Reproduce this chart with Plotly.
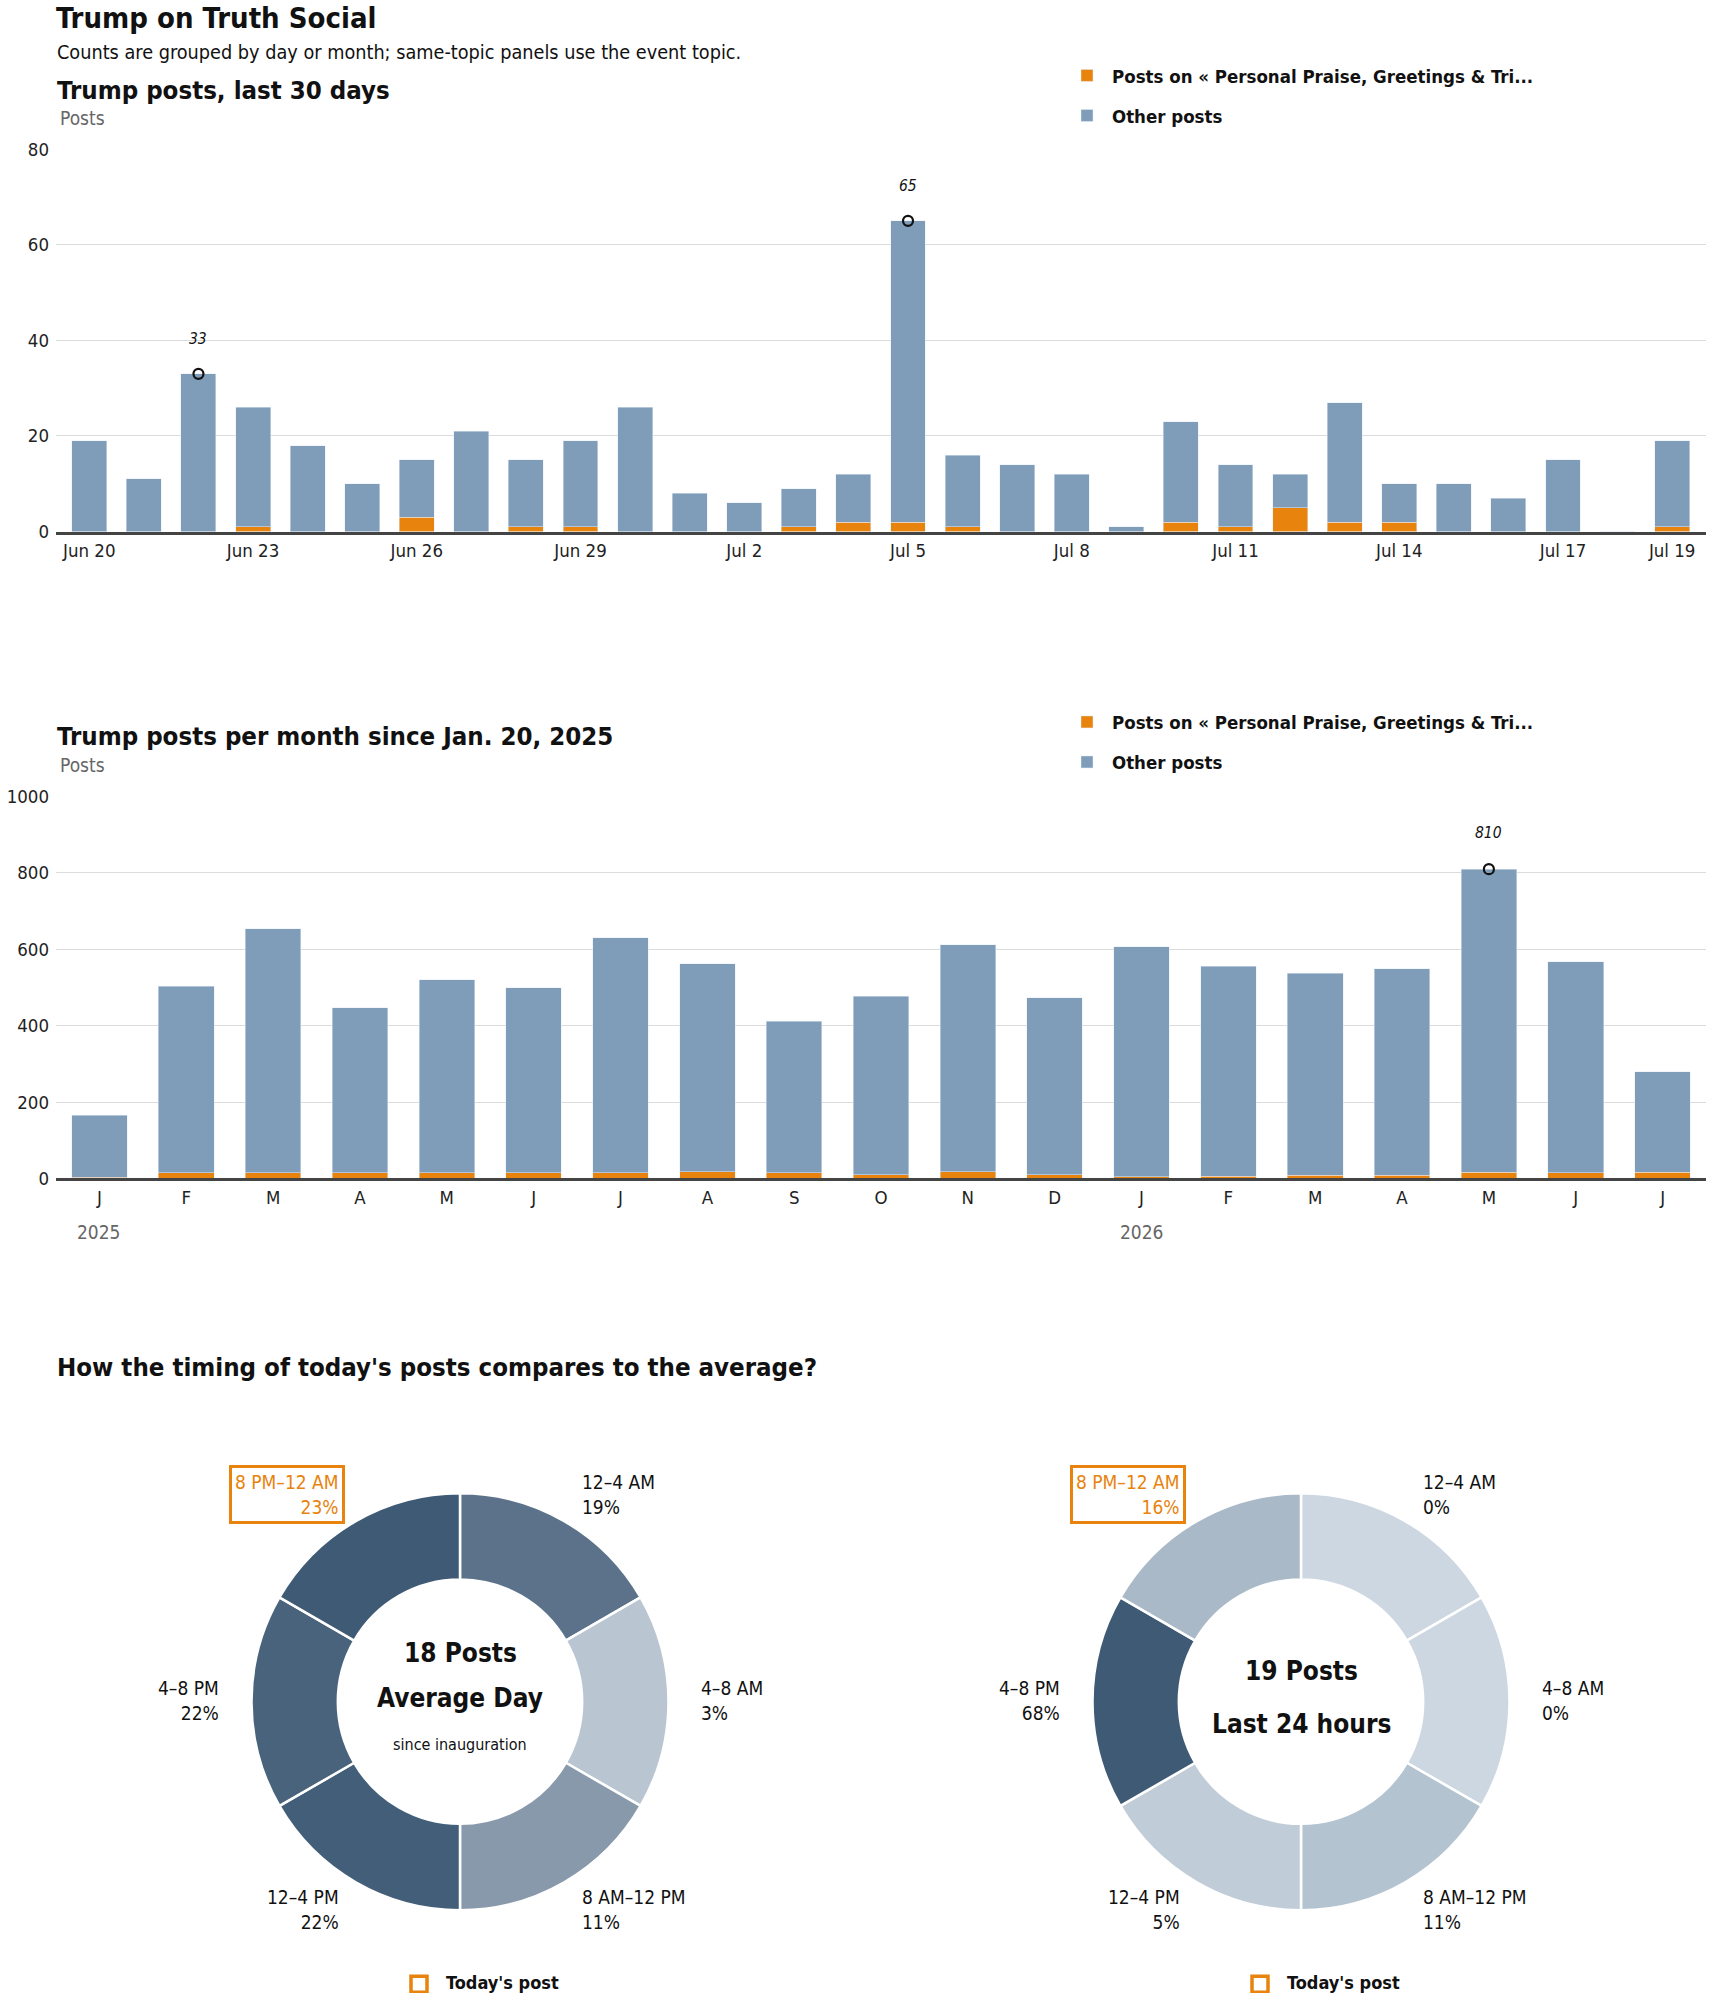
import plotly.graph_objects as go

W, H = 1710, 1993

ORANGE = "#e8830e"
BLUE = "#7f9db9"
INK = "#111111"
GREY = "#666666"
BOLD = "Liberation Sans Narrow, DejaVu Sans Condensed, Arial Narrow, sans-serif"
REG = "Liberation Sans Narrow, DejaVu Sans Condensed, Arial Narrow, sans-serif"

# --- data -------------------------------------------------------------
topic_name = "Posts on « Personal Praise, Greetings & Tri..."

days = ["Jun 20", "Jun 21", "Jun 22", "Jun 23", "Jun 24", "Jun 25", "Jun 26",
        "Jun 27", "Jun 28", "Jun 29", "Jun 30", "Jul 1", "Jul 2", "Jul 3",
        "Jul 4", "Jul 5", "Jul 6", "Jul 7", "Jul 8", "Jul 9", "Jul 10",
        "Jul 11", "Jul 12", "Jul 13", "Jul 14", "Jul 15", "Jul 16", "Jul 17",
        "Jul 18", "Jul 19"]
day_total = [19, 11, 33, 26, 18, 10, 15, 21, 15, 19, 26, 8, 6, 9, 12,
             65, 16, 14, 12, 1, 23, 14, 12, 27, 10, 10, 7, 15, 0, 19]
day_topic = [0, 0, 0, 1, 0, 0, 3, 0, 1, 1, 0, 0, 0, 1, 2,
             2, 1, 0, 0, 0, 2, 1, 5, 2, 2, 0, 0, 0, 0, 1]
day_ticks = ["Jun 20", "Jun 23", "Jun 26", "Jun 29", "Jul 2", "Jul 5",
             "Jul 8", "Jul 11", "Jul 14", "Jul 17", "Jul 19"]
day_marked = ["Jun 22", "Jul 5"]

months = ["Jan 2025", "Feb 2025", "Mar 2025", "Apr 2025", "May 2025", "Jun 2025",
          "Jul 2025", "Aug 2025", "Sep 2025", "Oct 2025", "Nov 2025", "Dec 2025",
          "Jan 2026", "Feb 2026", "Mar 2026", "Apr 2026", "May 2026", "Jun 2026",
          "Jul 2026"]
month_letters = ["J", "F", "M", "A", "M", "J", "J", "A", "S", "O", "N", "D",
                 "J", "F", "M", "A", "M", "J", "J"]
month_total = [165, 504, 654, 447, 520, 499, 630, 562, 412, 477, 612, 473,
               607, 556, 538, 549, 810, 568, 280]
month_topic = [3, 15, 15, 15, 15, 15, 15, 17, 15, 10, 18, 10,
               4, 6, 8, 8, 16, 15, 16]
month_marked = ["May 2026"]
year_labels = {"Jan 2025": "2025", "Jan 2026": "2026"}

slots = ["12–4 AM", "4–8 AM", "8 AM–12 PM", "12–4 PM", "4–8 PM", "8 PM–12 AM"]
avg_share = [19, 3, 11, 22, 22, 23]
today_share = [0, 0, 11, 5, 68, 16]
today_slot = "8 PM–12 AM"
avg_posts = 18
last24_posts = 19

# slice colours as seen in the picture
avg_colors = ["#5b728a", "#b9c6d2", "#8899ab", "#435e78", "#49637c", "#3f5a75"]
today_colors = ["#cdd7e1", "#cdd7e1", "#b4c3d0", "#c0cdd8", "#3f5a75", "#aab9c7"]

day_other = [t - p for t, p in zip(day_total, day_topic)]
month_other = [t - p for t, p in zip(month_total, month_topic)]


def fx(px):
    return px / W


def fy(py):
    # the photographed page comes out slightly squeezed vertically
    return 1 - ((py - 9.2) / 0.9872) / H


fig = go.Figure()

# --- bars -------------------------------------------------------------
fig.add_trace(go.Bar(x=days, y=day_topic, name=topic_name, marker_color=ORANGE,
                     legend="legend", legendgroup="t1", xaxis="x", yaxis="y"))
fig.add_trace(go.Bar(x=days, y=day_other, name="Other posts", marker_color=BLUE,
                     legend="legend", legendgroup="o1", xaxis="x", yaxis="y"))
fig.add_trace(go.Bar(x=months, y=month_topic, name=topic_name, marker_color=ORANGE,
                     legend="legend2", legendgroup="t2", xaxis="x2", yaxis="y2"))
fig.add_trace(go.Bar(x=months, y=month_other, name="Other posts", marker_color=BLUE,
                     legend="legend2", legendgroup="o2", xaxis="x2", yaxis="y2"))

mark_d = [day_total[days.index(d)] for d in day_marked]
mark_m = [month_total[months.index(m)] for m in month_marked]
fig.add_trace(go.Scatter(x=day_marked, y=mark_d, mode="markers", showlegend=False,
                         marker=dict(symbol="circle-open", size=10, color=INK,
                                     line=dict(width=2.2, color=INK)),
                         cliponaxis=False, xaxis="x", yaxis="y"))
fig.add_trace(go.Scatter(x=month_marked, y=mark_m, mode="markers", showlegend=False,
                         marker=dict(symbol="circle-open", size=10, color=INK,
                                     line=dict(width=2.2, color=INK)),
                         cliponaxis=False, xaxis="x2", yaxis="y2"))

# --- donuts -----------------------------------------------------------
R = 208.5
CY = 1696
donuts = [(460, avg_share, avg_colors), (1301, today_share, today_colors)]
for cx, share, colors in donuts:
    fig.add_trace(go.Pie(
        values=[1] * len(slots), labels=slots, sort=False, direction="clockwise",
        rotation=0, hole=0.586, textinfo="none", showlegend=False,
        customdata=share, hovertemplate="%{label}: %{customdata}%<extra></extra>",
        marker=dict(colors=colors, line=dict(color="white", width=2.5)),
        domain=dict(x=[fx(cx - R), fx(cx + R)], y=[fy(CY + R), fy(CY - R)]),
    ))

# --- annotations -----------------------------------------------------
ann = []


def text(x, y, s, size, color=INK, family=REG, anchor="left", **kw):
    ann.append(dict(x=fx(x), y=fy(y), xref="paper", yref="paper", text=s,
                    showarrow=False, xanchor=anchor, yanchor="middle",
                    font=dict(family=family, size=size, color=color), **kw))


text(54, 16, "<b>Trump on Truth Social</b>", 29, family=BOLD)
text(55, 51, "Counts are grouped by day or month; same-topic panels use the event topic.", 19.7)
text(55, 88, "<b>Trump posts, last 30 days</b>", 25.6, family=BOLD)
text(58, 116, "Posts", 19, color=GREY)
text(55, 733, "<b>Trump posts per month since Jan. 20, 2025</b>", 25.6, family=BOLD)
text(58, 761, "Posts", 19, color=GREY)
text(55, 1362, "<b>How the timing of today's posts compares to the average?</b>", 25.6, family=BOLD)

for d, v in zip(day_marked, mark_d):
    ann.append(dict(x=d, y=v, xref="x", yref="y", text=f"<i>{v}</i>", showarrow=False,
                    yshift=35, font=dict(family=REG, size=15.5, color=INK)))
for m, v in zip(month_marked, mark_m):
    ann.append(dict(x=m, y=v, xref="x2", yref="y2", text=f"<i>{v}</i>", showarrow=False,
                    yshift=36, font=dict(family=REG, size=15.5, color=INK)))
for m, yr in year_labels.items():
    ann.append(dict(x=m, y=fy(1227), xref="x2", yref="paper", text=yr, showarrow=False,
                    yanchor="middle", font=dict(family=REG, size=19, color=GREY)))

# label placement around each donut: (dx, dy, anchor)
slot_pos = {
    "12–4 AM": (120, -207, "left"),
    "4–8 AM": (239, -1, "left"),
    "8 AM–12 PM": (120, 207, "left"),
    "12–4 PM": (-119, 207, "right"),
    "4–8 PM": (-239, -1, "right"),
    "8 PM–12 AM": (-115, -207, "right"),
}
shapes = []
for cx, share, colors in donuts:
    for s, p in zip(slots, share):
        dx, dy, anc = slot_pos[s]
        if s == today_slot:
            text(cx + dx, CY + dy, f"{s}<br>{p}%", 19, color=ORANGE, anchor=anc,
                 align=anc, bordercolor=ORANGE, borderwidth=3, borderpad=3)
        else:
            text(cx + dx, CY + dy, f"{s}<br>{p}%", 19, anchor=anc, align=anc)
    # today's post key
    shapes.append(dict(type="rect", xref="paper", yref="paper",
                       x0=fx(cx - 49), x1=fx(cx - 33), y0=fy(1986), y1=fy(1970),
                       line=dict(color=ORANGE, width=3.5), fillcolor="white"))
    text(cx - 16, 1976, "<b>Today's post</b>", 18, family=BOLD)

text(460, CY - 49, f"<b>{avg_posts} Posts</b>", 26, family=BOLD, anchor="center")
text(460, CY - 4, "<b>Average Day</b>", 26, family=BOLD, anchor="center")
text(460, CY + 43, "since inauguration", 16, anchor="center")
text(1301, CY - 31, f"<b>{last24_posts} Posts</b>", 26, family=BOLD, anchor="center")
text(1301, CY + 22, "<b>Last 24 hours</b>", 26, family=BOLD, anchor="center")

# --- axes -------------------------------------------------------------
xcommon = dict(type="category", showgrid=False, showline=True, linecolor="#444444",
               linewidth=3, ticks="", tickmode="array",
               tickfont=dict(family=REG, size=18.5, color="#222222"))
ycommon = dict(showgrid=True, gridcolor="#dcdcdc", gridwidth=1, zeroline=False,
               showline=False, ticks="", ticklabelstandoff=6,
               tickfont=dict(family=REG, size=18.5, color="#222222"))

legend_common = dict(xanchor="left", yanchor="top", traceorder="grouped",
                     tracegroupgap=13, itemwidth=40, bgcolor="rgba(0,0,0,0)",
                     font=dict(family=BOLD, size=18.5, color=INK, weight="bold"))

fig.update_layout(
    width=W, height=H, margin=dict(l=0, r=0, t=0, b=0),
    paper_bgcolor="white", plot_bgcolor="white",
    barmode="stack", bargap=0.36,
    xaxis=dict(xcommon, domain=[fx(56), fx(1706)], anchor="y", range=[-0.61, 29.62],
               tickvals=day_ticks, ticktext=day_ticks),
    yaxis=dict(ycommon, domain=[fy(528.6), fy(147)], anchor="x", range=[0, 80],
               tickvals=[0, 20, 40, 60, 80]),
    xaxis2=dict(xcommon, domain=[fx(56), fx(1706)], anchor="y2", range=[-0.5, 18.5],
                tickvals=months, ticktext=month_letters),
    yaxis2=dict(ycommon, domain=[fy(1174), fy(793)], anchor="x2", range=[0, 1000],
                tickvals=[0, 200, 400, 600, 800, 1000]),
    legend=dict(legend_common, x=fx(1062), y=fy(55)),
    legend2=dict(legend_common, x=fx(1062), y=fy(700)),
    annotations=ann,
    shapes=shapes,
)

fig.write_html("out.html", config={"displayModeBar": False},
               post_script="document.body.style.margin='0';")
